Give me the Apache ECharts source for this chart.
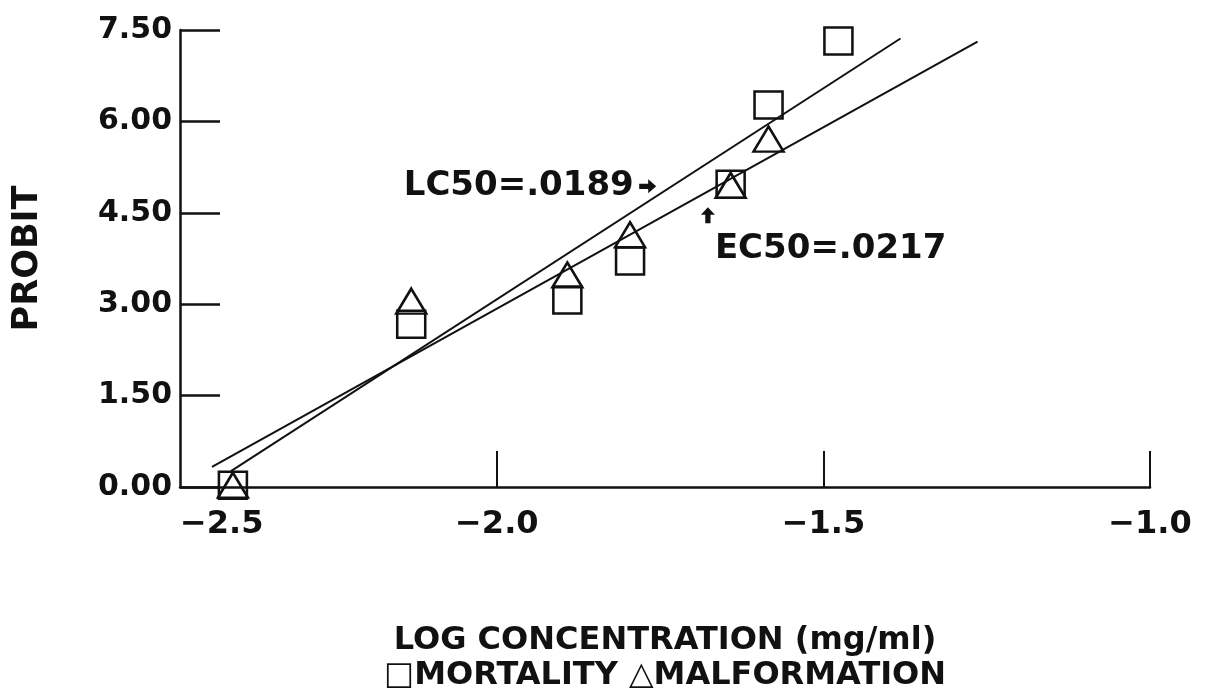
<!DOCTYPE html>
<html>
<head>
<meta charset="utf-8">
<script src="https://cdn.jsdelivr.net/npm/echarts@6/dist/echarts.min.js"></script>
<style>
  html, body { margin: 0; padding: 0; background: #fff; }
  #chart { width: 1218px; height: 693px; }
</style>
</head>
<body>
<div id="chart"></div>
<script>
// axis range: the drawn y axis sits a little right of -2.5
const X_MIN = -2.485;
const X_MAX = -1.0;
const xTickValues = [-2.0, -1.5, -1.0];
const xLabelValues = [X_MIN, -2.0, -1.5, -1.0];
const xTickLabels = ['−2.5', '−2.0', '−1.5', '−1.0'];
const yTickLabels = ['0.00', '1.50', '3.00', '4.50', '6.00', '7.50'];

// mortality (squares)
const mortalityX = [-2.404, -2.131, -1.892, -1.796, -1.642, -1.584, -1.477];
const mortalityY = [0.03, 2.67, 3.07, 3.71, 4.97, 6.27, 7.32];
// malformation (triangles)
const malformX = [-2.404, -2.131, -1.892, -1.796, -1.642, -1.584];
const malformY = [0.03, 3.05, 3.48, 4.14, 4.95, 5.71];

// fitted probit lines (end points)
const mortalityFitX = [-2.407, -1.382];
const mortalityFitY = [0.26, 7.36];
const malformFitX = [-2.436, -1.264];
const malformFitY = [0.33, 7.31];

// LC50 / EC50 notes
const noteLabels = ['LC50=.0189', 'EC50=.0217'];
const noteX = [-1.72, -1.66];
const noteY = [5.0, 5.0];

const FONT = 'DejaVu Sans';
const INK = '#111';

const zip = (xs, ys) => xs.map((x, i) => [x, ys[i]]);

const chart = echarts.init(document.getElementById('chart'));

const arrowRight = 'path://M0,5 L9,5 L9,0 L17,8 L9,16 L9,11 L0,11 Z';
const arrowUp = 'path://M5,17 L5,8 L0,8 L8,0 L16,8 L11,8 L11,17 Z';

const noteLabel = {
  show: true, position: 'inside', verticalAlign: 'middle',
  fontFamily: FONT, fontWeight: 'bold', fontSize: 34, color: INK
};

const option = {
  backgroundColor: '#fff',
  animation: false,
  grid: { left: 180, right: 68, top: 30, bottom: 206, outerBoundsMode: 'none' },
  xAxis: {
    type: 'value',
    min: X_MIN,
    max: X_MAX,
    name: 'LOG CONCENTRATION (mg/ml)\n□MORTALITY △MALFORMATION',
    nameLocation: 'middle',
    nameGap: 136,
    nameTextStyle: {
      fontFamily: FONT, fontWeight: 'bold', fontSize: 32, color: INK, lineHeight: 35
    },
    axisLine: { show: true, onZero: false, lineStyle: { color: INK, width: 2.5 } },
    axisTick: {
      show: true, inside: true, length: 36,
      customValues: xTickValues,
      lineStyle: { color: INK, width: 2 }
    },
    axisLabel: {
      customValues: xLabelValues,
      alignMinLabel: 'left',
      margin: 22,
      fontFamily: FONT, fontWeight: 'bold', fontSize: 32, color: INK,
      formatter: v => {
        let best = 0;
        xLabelValues.forEach((t, i) => {
          if (Math.abs(t - v) < Math.abs(xLabelValues[best] - v)) best = i;
        });
        return xTickLabels[best];
      }
    },
    splitLine: { show: false }
  },
  yAxis: {
    type: 'value',
    min: 0,
    max: 7.5,
    interval: 1.5,
    name: 'PROBIT',
    nameLocation: 'middle',
    nameGap: 135,
    nameTextStyle: { fontFamily: FONT, fontWeight: 'bold', fontSize: 35, color: INK },
    axisLine: { show: true, lineStyle: { color: INK, width: 2.5 } },
    axisTick: { show: true, inside: true, length: 40, lineStyle: { color: INK, width: 2.5 } },
    axisLabel: {
      margin: 8,
      fontFamily: FONT, fontWeight: 'bold', fontSize: 30, color: INK,
      formatter: v => yTickLabels[Math.round(v / 1.5)]
    },
    splitLine: { show: false }
  },
  series: [
    {
      name: 'Mortality fit',
      type: 'line',
      data: zip(mortalityFitX, mortalityFitY),
      symbol: 'none',
      lineStyle: { color: INK, width: 2 },
      z: 1
    },
    {
      name: 'Malformation fit',
      type: 'line',
      data: zip(malformFitX, malformFitY),
      symbol: 'none',
      lineStyle: { color: INK, width: 2 },
      z: 1
    },
    {
      name: 'MORTALITY',
      type: 'scatter',
      data: zip(mortalityX, mortalityY),
      symbol: 'rect',
      symbolSize: [28, 27],
      itemStyle: { color: 'rgba(0,0,0,0)', borderColor: INK, borderWidth: 2.5, opacity: 1 },
      z: 3
    },
    {
      name: 'MALFORMATION',
      type: 'scatter',
      data: zip(malformX, malformY),
      symbol: 'triangle',
      symbolSize: [30, 25],
      itemStyle: { color: 'rgba(0,0,0,0)', borderColor: INK, borderWidth: 2.5, opacity: 1 },
      z: 3
    },
    {
      name: 'notes',
      type: 'scatter',
      silent: true,
      z: 4,
      itemStyle: { color: INK, opacity: 1 },
      data: [
        {
          value: [noteX[0], noteY[0]],
          symbol: arrowRight,
          symbolSize: [17, 14],
          symbolOffset: [-32, 4],
          label: Object.assign({}, noteLabel, {
            align: 'right', offset: [-14, 0], formatter: noteLabels[0]
          })
        },
        {
          value: [noteX[1], noteY[1]],
          symbol: arrowUp,
          symbolSize: [14, 16],
          symbolOffset: [-11, 33],
          label: Object.assign({}, noteLabel, {
            align: 'left', offset: [7, 34], formatter: noteLabels[1]
          })
        }
      ]
    }
  ]
};

chart.setOption(option);
</script>
</body>
</html>
